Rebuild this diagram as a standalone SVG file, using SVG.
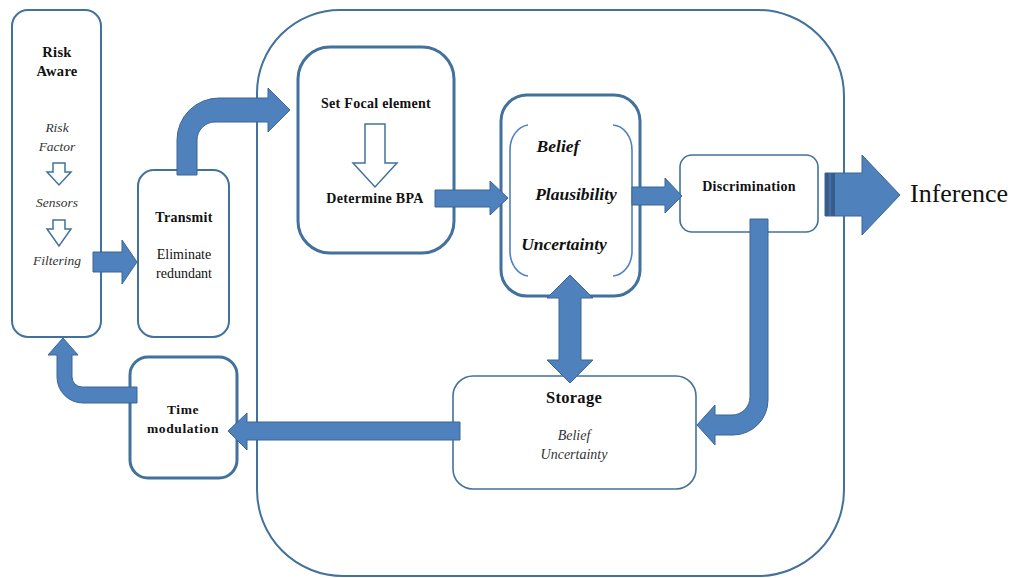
<svg xmlns="http://www.w3.org/2000/svg" width="1011" height="578" viewBox="0 0 1011 578" font-family="'Liberation Serif', 'Times New Roman', 'DejaVu Serif', serif">
<style>
.box{fill:#fff;stroke:#41719C;stroke-width:2}
.thick{stroke-width:3}
.thin{stroke-width:1.6}
.arr{fill:#4F81BD;stroke:#3A6596;stroke-width:1}
.hollow{fill:#fff;stroke:#41719C;stroke-width:1.5}
.brk{fill:none;stroke:#4F81BD;stroke-width:1.6}
text{font-family:'Liberation Serif','Times New Roman','DejaVu Serif',serif;fill:#111;text-anchor:middle}
.b{font-weight:bold;font-size:14px;letter-spacing:0.3px}
.i{font-style:italic;font-size:13.5px;fill:#333}
.bi{font-weight:bold;font-style:italic;font-size:17.5px}
</style>
<rect width="1011" height="578" fill="#fff"/>
<g id="container"><path class="box" d="M340,10 H758 A86,86 0 0 1 844,96 V490 A86,86 0 0 1 758,576 H343 A86,86 0 0 1 257,490 V93 A83,83 0 0 1 340,10 Z"/></g>
<g id="risk-aware">
<rect class="box" x="12" y="10" width="89" height="327" rx="16"/>
<text class="b" x="57" y="57" style="font-size:14.5px">Risk</text>
<text class="b" x="57" y="76" style="font-size:14.5px">Aware</text>
<text class="i" x="57" y="132">Risk</text>
<text class="i" x="57" y="151">Factor</text>
<path class="hollow" d="M53,163 H65 V172 H71 L59,185 L47,172 H53 Z"/>
<text class="i" x="57" y="207">Sensors</text>
<path class="hollow" d="M53,220 H65 V229 H71 L59,246 L47,229 H53 Z"/>
<text class="i" x="57" y="265">Filtering</text>
</g>
<g id="transmit">
<rect class="box" x="138" y="170" width="91" height="167" rx="16"/>
<text class="b" x="184" y="222">Transmit</text>
<text x="184" y="259" font-size="14">Eliminate</text>
<text x="184" y="278" font-size="14">redundant</text>
</g>
<g id="time-modulation">
<rect class="box thick" x="130" y="357" width="107" height="121" rx="18"/>
<text class="b" x="183" y="414" style="font-size:13.5px;letter-spacing:0.6px">Time</text>
<text class="b" x="183" y="433" style="font-size:13.5px;letter-spacing:0.6px">modulation</text>
</g>
<g id="set-focal">
<rect class="box thick" x="298" y="47" width="156" height="206" rx="32"/>
<text class="b" x="376" y="108">Set Focal element</text>
<path class="hollow" d="M365,124 H385 V163 H397 L375,187 L353,163 H365 Z"/>
<text class="b" x="375" y="203">Determine BPA</text>
</g>
<g id="belief">
<rect class="box thick" x="501" y="95" width="139" height="201" rx="26"/>
<path class="brk" d="M528,125 A20,25 0 0 0 510,150 V252 A20,25 0 0 0 528,276"/>
<path class="brk" d="M613,125 A20,25 0 0 1 632,150 V252 A20,25 0 0 1 613,276"/>
<text class="bi" x="558" y="152">Belief</text>
<text class="bi" x="576" y="200">Plausibility</text>
<text class="bi" x="564" y="250">Uncertainty</text>
</g>
<g id="discrimination">
<rect class="box thin" x="680" y="155" width="138" height="77" rx="12"/>
<text class="b" x="749" y="191">Discrimination</text>
</g>
<g id="storage">
<rect class="box thin" x="453" y="376" width="243" height="113" rx="20"/>
<text class="b" x="574" y="403" style="font-size:16.5px">Storage</text>
<text class="i" x="574" y="440" fill="#222" style="font-size:14px">Belief</text>
<text class="i" x="574" y="459" fill="#222" style="font-size:14px">Uncertainty</text>
</g>
<g id="inference">
<text x="910" y="202" font-size="26" style="text-anchor:start;font-size:26px">Inference</text>
</g>
<g id="connectors">
<path class="arr" d="M93,252 H122 V240 L137,262 L122,284 V272 H93 Z"/>
<path class="arr" d="M177,175 V140 A42,42 0 0 1 219,98 H268 V88 L290,110 L268,132 V122 H215 A18,18 0 0 0 197,140 V175 Z"/>
<path class="arr" d="M435,190 H490 V181 L508,198 L490,215 V207 H435 Z"/>
<path class="arr" d="M632,187 H665 V178 L682,196 L665,213 V205 H632 Z"/>
<path class="arr" d="M825,173 H862 V155 L900,195 L862,235 V216 H825 Z"/>
<rect x="825" y="173" width="10" height="43" fill="#385D8A"/>
<line x1="830" y1="173" x2="830" y2="216" stroke="#4F81BD" stroke-width="1"/>
<path class="arr" d="M750,219 V397 A18,18 0 0 1 732,415 H715 V405 L697,425 L715,445 V435 H733 A35,35 0 0 0 768,400 V219 Z"/>
<path class="arr" d="M570,275 L593,298 H581 V360 H593 L570,383 L547,360 H559 V298 H547 Z"/>
<path class="arr" d="M460,422 H247 V413 L228,431 L247,450 V440 H460 Z"/>
<path class="arr" d="M137,387 H82 A10,10 0 0 1 72,377 V355 H78 L63,338 L48,355 H57 V377 A26,26 0 0 0 83,403 H137 Z"/>
</g>
</svg>
